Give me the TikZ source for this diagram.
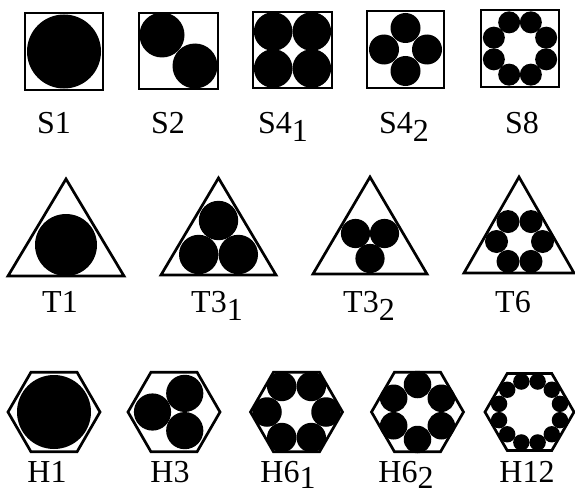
\documentclass[tikz,border=0pt]{standalone}
\usepackage{fontspec}
\setmainfont{Liberation Serif}
\newcommand\lowsub[1]{\raisebox{-8.5pt}{#1}}
\newcommand\lowsubb[1]{\raisebox{-6.5pt}{#1}}
\begin{document}
\begin{tikzpicture}[x=1pt,y=-1pt,
  outline/.style={line width=2.7pt, line join=miter},
  disk/.style={fill=black},
  lab/.style={anchor=base, inner sep=0pt, font=\fontsize{32}{34}\selectfont}]
\useasboundingbox (0,0) rectangle (575,495);
% ---------- Row 1: squares ----------
\draw[outline] (25,13) rectangle (103,90);
\fill[disk] (64,51.5) circle[radius=37];
\node[lab] (s1) at (54,133) {S1};

\draw[outline] (139,13) rectangle (218,89);
\fill[disk] (162,35) circle[radius=22.5];
\fill[disk] (195,66) circle[radius=22.5];
\node[lab] (s2) at (168,133) {S2};

\draw[outline] (253,12) rectangle (332,88);
\foreach \dx/\dy in {-1/-1,1/-1,-1/1,1/1}
  \fill[disk] (292.5+19.3*\dx,50+18.5*\dy) circle[radius=19.3];
\node[lab] (s41) at (283,133) {S4\lowsub{1}};

\draw[outline] (367,11) rectangle (444,88);
\foreach \a in {0,90,180,270}
  \fill[disk] (405.5,49.5) ++(\a:21.5) circle[radius=15];
\node[lab] (s42) at (404,133) {S4\lowsub{2}};

\draw[outline] (481,10) rectangle (559,87);
\foreach \a in {22.5,67.5,...,337.5}
  \fill[disk] (520,48.5) ++(\a:28.3) circle[radius=11];
\node[lab] (s8) at (522,133) {S8};

% ---------- Row 2: triangles ----------
\draw[outline] (8,276) -- (66,179) -- (124,276) -- cycle;
\fill[disk] (66,245) circle[radius=31];
\node[lab] (t1) at (60,312) {T1};

\draw[outline] (161,275) -- (218.5,178) -- (276,275) -- cycle;
\fill[disk] (198.7,254.5) circle[radius=19.7];
\fill[disk] (238.3,254.5) circle[radius=19.7];
\fill[disk] (218.5,220.5) circle[radius=19.7];
\node[lab] (t31) at (217,312) {T3\lowsub{1}};

\draw[outline] (313,274) -- (370,177) -- (427,274) -- cycle;
\fill[disk] (355.5,233.5) circle[radius=14.6];
\fill[disk] (384.5,233.5) circle[radius=14.6];
\fill[disk] (370,258.5) circle[radius=14.6];
\node[lab] (t32) at (369,312) {T3\lowsub{2}};

\draw[outline] (464,273) -- (519,177) -- (574,273) -- cycle;
\foreach \a in {0,60,...,300}
  \fill[disk] (519.5,241.5) ++(\a:23) circle[radius=11.5];
\node[lab] (t6) at (513,312) {T6};

% ---------- Row 3: hexagons ----------
\draw[outline] (54,412) ++(0:46) -- ++(120:46) -- ++(180:46) -- ++(240:46) -- ++(300:46) -- ++(0:46) -- cycle;
\fill[disk] (54,412) circle[radius=37];
\node[lab] (h1) at (47,482) {H1};

\draw[outline] (174,412) ++(0:46) -- ++(120:46) -- ++(180:46) -- ++(240:46) -- ++(300:46) -- ++(0:46) -- cycle;
\foreach \a in {60,180,300}
  \fill[disk] (174,412) ++(\a:21.5) circle[radius=18.6];
\node[lab] (h3) at (170,482) {H3};

\draw[outline] (296.5,412) ++(0:46) -- ++(120:46) -- ++(180:46) -- ++(240:46) -- ++(300:46) -- ++(0:46) -- cycle;
\foreach \a in {0,60,...,300}
  \fill[disk] (296.5,412) ++(\a:29.5) circle[radius=14.75];
\node[lab] (h61) at (288,482) {H6\lowsubb{1}};

\draw[outline] (417.5,412) ++(0:46) -- ++(120:46) -- ++(180:46) -- ++(240:46) -- ++(300:46) -- ++(0:46) -- cycle;
\foreach \a in {30,90,...,330}
  \fill[disk] (417.5,412) ++(\a:27.5) circle[radius=13.75];
\node[lab] (h62) at (406,482) {H6\lowsubb{2}};

\draw[outline] (529.5,412) ++(0:44.5) -- ++(120:44.5) -- ++(180:44.5) -- ++(240:44.5) -- ++(300:44.5) -- ++(0:44.5) -- cycle;
\foreach \a in {15,45,...,345}
  \fill[disk] (529.5,412) ++(\a:31.5) circle[radius=8.2];
\node[lab] (h12) at (527,482) {H12};
\end{tikzpicture}
\end{document}
